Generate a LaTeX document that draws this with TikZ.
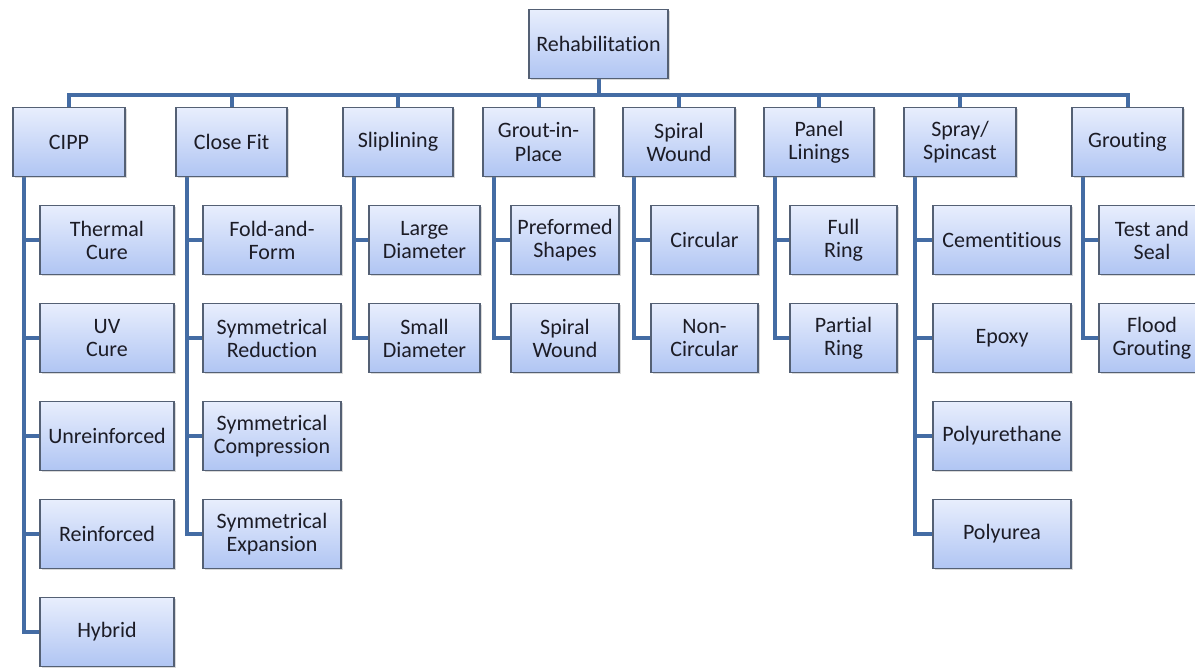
\documentclass[tikz,border=0pt]{standalone}
\usepackage{fontspec}
\setmainfont{Carlito}[Ligatures={NoCommon}]
\usetikzlibrary{shadows,backgrounds}

\definecolor{boxtop}{RGB}{232,238,253}
\definecolor{boxbot}{RGB}{176,197,243}
\definecolor{boxline}{RGB}{84,96,116}
\definecolor{linkblue}{RGB}{68,108,164}
\definecolor{labelink}{RGB}{28,28,38}

\begin{document}
\begin{tikzpicture}[x=0.75pt,y=-0.75pt]
        \tikzset{box/.style={draw=boxline, line width=1pt,
                top color=boxtop, bottom color=boxbot,
                drop shadow={opacity=0.3, shadow xshift=1.2pt, shadow yshift=-1.2pt},
                minimum height=52pt, inner sep=1pt, align=center, text=labelink,
                font=\fontsize{16.5}{17.3}\selectfont},
            boxw/.style={minimum width=#1*0.75pt},
            link/.style={draw=linkblue, line width=3pt}}

        \useasboundingbox (0,0) rectangle (1195,669);

        % top
        \node[box, boxw=139] (root) at (598.5,44) {Rehabilitation};
        \coordinate (bus) at (598.5,95);

        % methods
        \node[box, boxw=112] (cipp) at (69,142) {CIPP};
        \node[box, boxw=111] (closefit) at (231.5,142) {Close Fit};
        \node[box, boxw=110] (slip) at (398,142) {Sliplining};
        \node[box, boxw=111] (grout) at (538.5,142) {Grout-in-\\Place};
        \node[box, boxw=112] (spiral) at (679,142) {Spiral\\Wound};
        \node[box, boxw=110] (panel) at (819,142) {Panel\\Linings};
        \node[box, boxw=112] (spray) at (960,142) {Spray/\\Spincast};
        \node[box, boxw=111] (grouting) at (1127.5,142) {Grouting};

        % CIPP
        \node[box, boxw=134] (cipp1) at (107,240) {Thermal\\Cure};
        \node[box, boxw=134] (cipp2) at (107,338) {UV\\Cure};
        \node[box, boxw=134] (cipp3) at (107,436) {Unreinforced};
        \node[box, boxw=134] (cipp4) at (107,534) {Reinforced};
        \node[box, boxw=134] (cipp5) at (107,632) {Hybrid};

        % close fit
        \node[box, boxw=138] (closefit1) at (272,240) {Fold-and-\\Form};
        \node[box, boxw=138] (closefit2) at (272,338) {Symmetrical\\Reduction};
        \node[box, boxw=138] (closefit3) at (272,436) {Symmetrical\\Compression};
        \node[box, boxw=138] (closefit4) at (272,534) {Symmetrical\\Expansion};

        % sliplining
        \node[box, boxw=111] (slip1) at (424.5,240) {Large\\Diameter};
        \node[box, boxw=111] (slip2) at (424.5,338) {Small\\Diameter};

        % grout-in-place
        \node[box, boxw=108] (grout1) at (565,240) {Preformed\\Shapes};
        \node[box, boxw=108] (grout2) at (565,338) {Spiral\\Wound};

        % spiral wound
        \node[box, boxw=107] (spiral1) at (704.5,240) {Circular};
        \node[box, boxw=107] (spiral2) at (704.5,338) {Non-\\Circular};

        % panel linings
        \node[box, boxw=107] (panel1) at (843.5,240) {Full\\Ring};
        \node[box, boxw=107] (panel2) at (843.5,338) {Partial\\Ring};

        % spray / spincast
        \node[box, boxw=138] (spray1) at (1002,240) {Cementitious};
        \node[box, boxw=138] (spray2) at (1002,338) {Epoxy};
        \node[box, boxw=138] (spray3) at (1002,436) {Polyurethane};
        \node[box, boxw=138] (spray4) at (1002,534) {Polyurea};

        % grouting
        \node[box, boxw=106] (grouting1) at (1152,240) {Test and\\Seal};
        \node[box, boxw=106] (grouting2) at (1152,338) {Flood\\Grouting};

        \begin{pgfonlayer}{background}
            \draw[link] (root) -- (bus);
            \draw[link] (cipp.north) |- (bus) -| (grouting.north);
            \draw[link] (bus -| closefit.north) -- (closefit.north);
            \draw[link] (bus -| slip.north) -- (slip.north);
            \draw[link] (bus -| grout.north) -- (grout.north);
            \draw[link] (bus -| spiral.north) -- (spiral.north);
            \draw[link] (bus -| panel.north) -- (panel.north);
            \draw[link] (bus -| spray.north) -- (spray.north);

            \draw[link] ([xshift=9pt]cipp.south west) |- (cipp5.west);
            \draw[link] ([xshift=9pt]cipp.south west) |- (cipp1.west);
            \draw[link] ([xshift=9pt]cipp.south west) |- (cipp2.west);
            \draw[link] ([xshift=9pt]cipp.south west) |- (cipp3.west);
            \draw[link] ([xshift=9pt]cipp.south west) |- (cipp4.west);

            \draw[link] ([xshift=9pt]closefit.south west) |- (closefit4.west);
            \draw[link] ([xshift=9pt]closefit.south west) |- (closefit1.west);
            \draw[link] ([xshift=9pt]closefit.south west) |- (closefit2.west);
            \draw[link] ([xshift=9pt]closefit.south west) |- (closefit3.west);

            \draw[link] ([xshift=9pt]slip.south west) |- (slip2.west);
            \draw[link] ([xshift=9pt]slip.south west) |- (slip1.west);

            \draw[link] ([xshift=9pt]grout.south west) |- (grout2.west);
            \draw[link] ([xshift=9pt]grout.south west) |- (grout1.west);

            \draw[link] ([xshift=9pt]spiral.south west) |- (spiral2.west);
            \draw[link] ([xshift=9pt]spiral.south west) |- (spiral1.west);

            \draw[link] ([xshift=9pt]panel.south west) |- (panel2.west);
            \draw[link] ([xshift=9pt]panel.south west) |- (panel1.west);

            \draw[link] ([xshift=9pt]spray.south west) |- (spray4.west);
            \draw[link] ([xshift=9pt]spray.south west) |- (spray1.west);
            \draw[link] ([xshift=9pt]spray.south west) |- (spray2.west);
            \draw[link] ([xshift=9pt]spray.south west) |- (spray3.west);

            \draw[link] ([xshift=9pt]grouting.south west) |- (grouting2.west);
            \draw[link] ([xshift=9pt]grouting.south west) |- (grouting1.west);
        \end{pgfonlayer}
    \end{tikzpicture}
\end{document}
